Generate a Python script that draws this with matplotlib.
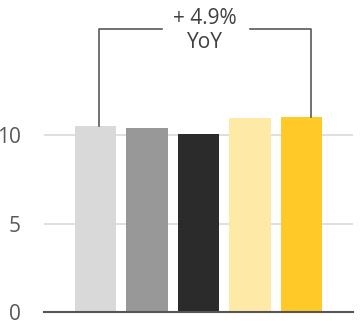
import matplotlib.pyplot as plt

# bar values
categories = ['A', 'B', 'C', 'D', 'E']
values = [10.5, 10.4, 10.05, 10.95, 11.01]
colors = ['#d9d9d9', '#989898', '#2b2b2b', '#ffe9a6', '#ffca28']
yticks = [0, 5, 10]
growth_label = '+ 4.9%\nYoY'

plt.rcParams['font.family'] = ['Open Sans', 'DejaVu Sans']

fig = plt.figure(figsize=(3.61, 3.21), dpi=100)
ax = fig.add_axes([44 / 361, 9 / 321, 309 / 361, 312 / 321])

x = list(range(len(categories)))
ax.bar(x, values, width=0.81, color=colors, zorder=2)

ax.set_xlim(-1, 5)
ax.set_ylim(0, 17.63)
ax.set_yticks(yticks)
ax.set_xticks([])
ax.yaxis.grid(True, color='#d9d9d9', linewidth=1.2, zorder=0)
ax.tick_params(axis='y', length=0, pad=16.5, labelsize=15, labelcolor='#595959')
for side in ['top', 'right', 'left']:
    ax.spines[side].set_visible(False)
ax.spines['bottom'].set_color('#555555')
ax.spines['bottom'].set_linewidth(1.5)
ax.spines['bottom'].set_zorder(3)

# YoY bracket from first to last bar
x0, x1 = 0.06, 4.19
top = 16.0
mid = (x0 + x1) / 2
line_kw = dict(color='#595959', linewidth=1.2, clip_on=False)
ax.plot([x0, x0, 1.3], [values[0], top, top], **line_kw)
ax.plot([3.0, x1, x1], [top, top, values[-1]], **line_kw)
ax.text(mid, top - 0.1, growth_label, ha='center', va='center', fontsize=15,
        color='#404040', linespacing=1.15)

fig.savefig('out.png', dpi=100)
